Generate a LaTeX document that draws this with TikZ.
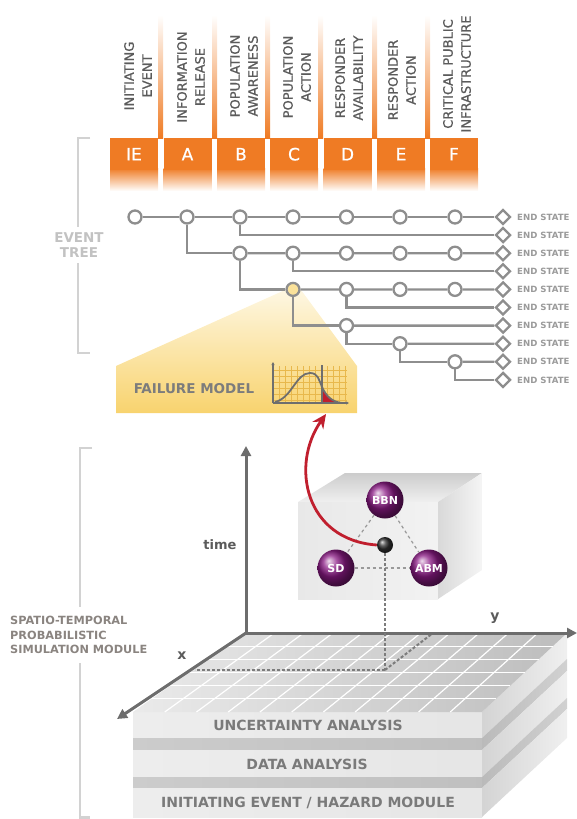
\documentclass[tikz,border=0pt]{standalone}
\usepackage{fontspec}
\setmainfont{DejaVu Sans}
\newfontfamily\hdrfont[FakeBold=0.8]{DejaVu Sans}
\usetikzlibrary{arrows.meta,shapes.geometric,calc}
\definecolor{org}{HTML}{EF7B24}
\definecolor{hdr}{HTML}{5B5B5B}
\definecolor{tg}{HTML}{8E8E8E}
\definecolor{esg}{HTML}{9A9A9A}
\definecolor{brk}{HTML}{D2D2D2}
\definecolor{brt}{HTML}{C2C2C2}
\definecolor{fmlight}{HTML}{FEF7E2}
\definecolor{fmdark}{HTML}{F8D36E}
\definecolor{ylc}{HTML}{FBE29A}
\definecolor{gridy}{HTML}{E8B84C}
\definecolor{chg}{HTML}{6E6E6E}
\definecolor{rd}{HTML}{C01F2E}
\definecolor{axg}{HTML}{6D6D6D}
\definecolor{purp}{RGB}{138,26,132}
\definecolor{slabt}{HTML}{7A7A7A}
\definecolor{simt}{HTML}{8A8480}
\begin{document}
\begin{tikzpicture}[x=1pt,y=-1pt,
  tc/.style={circle,draw=tg,line width=2.3pt,fill=white,minimum size=13pt,inner sep=0pt},
  ed/.style={diamond,draw=tg,line width=2.3pt,fill=white,minimum size=15pt,inner sep=0pt},
  tl/.style={draw=tg,line width=2.3pt},
  es/.style={anchor=west,text=esg,font=\bfseries\fontsize{8.6}{9}\selectfont,inner sep=0pt},
  hl/.style={rotate=90,align=center,text=hdr,font=\hdrfont\fontsize{13}{18}\selectfont,inner sep=0pt},
  hb/.style={fill=org,minimum width=48pt,minimum height=32pt,inner sep=0pt,anchor=north,text=white,font=\hdrfont\fontsize{17}{17}\selectfont},
  brkl/.style={draw=brk,line width=2.6pt},
  axis/.style={draw=axg,line width=3pt,-{Triangle[length=10pt,width=10pt]}},
  dots/.style={draw=axg!90,line width=2pt,dash pattern=on 3pt off 2pt},
  sph/.style={circle,ball color=purp,minimum size=37pt,inner sep=0pt,text=white,font=\bfseries\fontsize{11}{11}\selectfont},
  slabtext/.style={text=slabt,font=\bfseries\fontsize{14}{14}\selectfont},
  redarr/.style={draw=rd,line width=2.8pt,-{Stealth[length=14pt,width=13pt]}}
]
\useasboundingbox (0,0) rectangle (577,819);

% ---------------- header ----------------
\foreach \gx in {160.5,214.5,267.5,320.5,374.5,427.5}
  \shade[top color=white,bottom color=org] (\gx-2.5,15) rectangle (\gx+2.5,138);
\foreach \cx/\nm/\lt in {134/ie/IE,187.5/a/A,241/b/B,294/c/C,347.5/d/D,401/e/E,454/f/F}{
  \shade[top color=org,bottom color=white] (\cx-24,168) rectangle (\cx+24,191);
  \node[hb] (box\nm) at (\cx,138) {\lt};
}
\node[hl] (hie) at (138,76) {INITIATING\\EVENT};
\node[hl] (ha) at (191,77) {INFORMATION\\RELEASE};
\node[hl] (hb) at (244,76) {POPULATION\\AWARENESS};
\node[hl] (hc) at (297,77) {POPULATION\\ACTION};
\node[hl] (hd) at (349,78) {RESPONDER\\AVAILABILITY};
\node[hl] (he) at (402,80) {RESPONDER\\ACTION};
\node[hl] (hf) at (457,74) {CRITICAL PUBLIC\\INFRASTRUCTURE};

% ---------------- failure model fan ----------------
\shade[top color=fmlight,bottom color=fmdark] (285,290) -- (116,366) -- (116,413) -- (357,413) -- (357,366) -- (301,290) -- cycle;
\node[text=chg!90,font=\bfseries\fontsize{13.5}{14}\selectfont] (fm) at (194,389) {FAILURE MODEL};
% chart
\foreach \gx in {279,285,291,297,303,309,315,321,327,333,339,345}
  \draw[gridy,line width=0.5pt] (\gx,366) -- (\gx,403);
\foreach \gy in {370,376,382,388,394,400}
  \draw[gridy,line width=0.5pt] (274,\gy) -- (347,\gy);
\fill[rd] (322,387) .. controls (326,396) and (332,402) .. (340,403) -- (322,403) -- cycle;
\draw[chg,line width=1.8pt] (275,402) .. controls (292,398) and (296,373) .. (310,373) .. controls (318,373) and (319,380) .. (322,387) .. controls (326,396) and (332,402) .. (342,403);
\draw[chg,line width=1.5pt] (322,365) -- (322,403);
\draw[chg,line width=1.3pt,-{Triangle[length=3pt,width=3pt]}] (273,403) -- (273,362);
\draw[chg,line width=1.3pt,-{Triangle[length=3pt,width=3pt]}] (273,403) -- (349,403);
\coordinate (fmt) at (326,414);

% ---------------- event tree ----------------
\foreach \r in {0,...,9}{
  \node[ed] (E\r) at (503,{217+18.1*\r}) {};
  \node[es] (L\r) at (517,{217+18.1*\r}) {END STATE};
}
\foreach \c/\x in {0/135,1/187,2/240,3/293,4/346.5,5/400,6/455}
  \node[tc] (n0\c) at (\x,217) {};
\foreach \c/\x in {2/240,3/293,4/346.5,5/400,6/455}
  \node[tc] (n2\c) at (\x,253.2) {};
\node[tc,fill=ylc] (n43) at (293,289.4) {};
\foreach \c/\x in {4/346.5,5/400,6/455}
  \node[tc] (n4\c) at (\x,289.4) {};
\node[tc] (n64) at (346.5,325.6) {};
\node[tc] (n75) at (400,343.7) {};
\node[tc] (n86) at (455,361.8) {};

\draw[tl] (n00) -- (n01) -- (n02) -- (n03) -- (n04) -- (n05) -- (n06) -- (E0);
\draw[tl] (n02) |- (E1);
\draw[tl] (n01) |- (n22);
\draw[tl] (n22) -- (n23) -- (n24) -- (n25) -- (n26) -- (E2);
\draw[tl] (n23) |- (E3);
\draw[tl] (n22) |- (n43);
\draw[tl] (n43) -- (n44) -- (n45) -- (n46) -- (E4);
\draw[tl] (n44) |- (E5);
\draw[tl] (n43) |- (n64);
\draw[tl] (n64) -- (E6);
\draw[tl] (n64) |- (n75);
\draw[tl] (n75) -- (E7);
\draw[tl] (n75) |- (n86);
\draw[tl] (n86) -- (E8);
\draw[tl] (n86) |- (E9);

% ---------------- brackets ----------------
\draw[brkl] (90,138) -- (78,138) -- (78,227);
\draw[brkl] (78,263) -- (78,353) -- (90,353);
\node[text=brt,align=center,font=\bfseries\fontsize{13.5}{15.5}\selectfont] (evt) at (79,245) {EVENT\\TREE};
\draw[brkl] (92,448) -- (80,448) -- (80,607);
\draw[brkl] (80,663) -- (80,817.5) -- (90,817.5);
\node[anchor=north west,text=simt,align=left,inner sep=0pt,font=\bfseries\fontsize{11.3}{14.5}\selectfont] (sim) at (10,616) {SPATIO-TEMPORAL\\PROBABILISTIC\\SIMULATION MODULE};

% ---------------- slabs ----------------
\foreach \yt/\yb/\kind in {712/738/1,738/750/0,750/777/1,777/788/0,788/817/1}{
  \ifnum\kind=1
    \shade[left color=black!7,right color=black!10] (133,\yt) rectangle (482,\yb);
    \shade[left color=black!17,right color=black!6] (482,\yt) -- (567,\yt-79) -- (567,\yb-79) -- (482,\yb) -- cycle;
  \else
    \shade[left color=black!20,right color=black!25] (133,\yt) rectangle (482,\yb);
    \shade[left color=black!27,right color=black!18] (482,\yt) -- (567,\yt-79) -- (567,\yb-79) -- (482,\yb) -- cycle;
  \fi
}
\node[slabtext] (ua) at (308,725.5) {UNCERTAINTY ANALYSIS};
\node[slabtext] (da) at (307,764) {DATA ANALYSIS};
\node[slabtext] (ie) at (308,803) {INITIATING EVENT / HAZARD MODULE};
% top grid surface
\shade[left color=black!8,right color=black!26] (245,633) -- (567,633) -- (482,712) -- (133,712) -- cycle;
\foreach \k in {1,...,5}
  \draw[white,line width=1.2pt] ({245-112*\k/6},{633+79*\k/6}) -- ({567-85*\k/6},{633+79*\k/6});
\foreach \i in {1,...,10}
  \draw[white,line width=1.2pt] ({245+322*\i/11},633) -- ({133+349*\i/11},712);

% ---------------- axes ----------------
\coordinate (O) at (246,633);
\coordinate (tT) at (246,446);
\coordinate (yT) at (577,633);
\coordinate (xT) at (117,719);
\coordinate (g0) at (385,670);
\coordinate (gx) at (195,670);
\coordinate (gy) at (433,633);
\draw[dots] (g0) -- (gx);
\draw[dots] (g0) -- (gy);
\draw[axis] (O) -- (tT);
\draw[axis] (O) -- (yT);
\draw[axis] (O) -- (xT);
\node[text=hdr,font=\bfseries\fontsize{13}{13}\selectfont] (tl) at (220,545) {time};
\node[text=hdr,font=\bfseries\fontsize{14}{14}\selectfont] (yl) at (495,618) {y};
\node[text=hdr,font=\bfseries\fontsize{14}{14}\selectfont] (xl) at (182,656) {x};

% ---------------- cube ----------------
\shade[top color=black!20,bottom color=black!6] (298,502) -- (345,473) -- (482,473) -- (438,502) -- cycle;
\shade[left color=black!9,right color=black!5] (298,502) rectangle (438,599);
\shade[left color=black!15,right color=black!4] (438,502) -- (482,473) -- (482,570) -- (438,599) -- cycle;
\node[sph] (bbn) at (385,500) {BBN};
\node[sph] (sd) at (336,568) {SD};
\node[sph] (abm) at (429,568) {ABM};
\draw[black!40,line width=1.2pt,dashed] (bbn) -- (sd);
\draw[black!40,line width=1.2pt,dashed] (bbn) -- (abm);
\draw[black!40,line width=1.2pt,dashed] (sd) -- (abm);
\node[circle,ball color=black!80,minimum size=16pt,inner sep=0pt] (blk) at (385,545) {};
\draw[dots] (blk.south) -- (g0);
\draw[redarr] (blk.west) .. controls (305,540) and (290,465) .. (fmt);
\end{tikzpicture}
\end{document}
